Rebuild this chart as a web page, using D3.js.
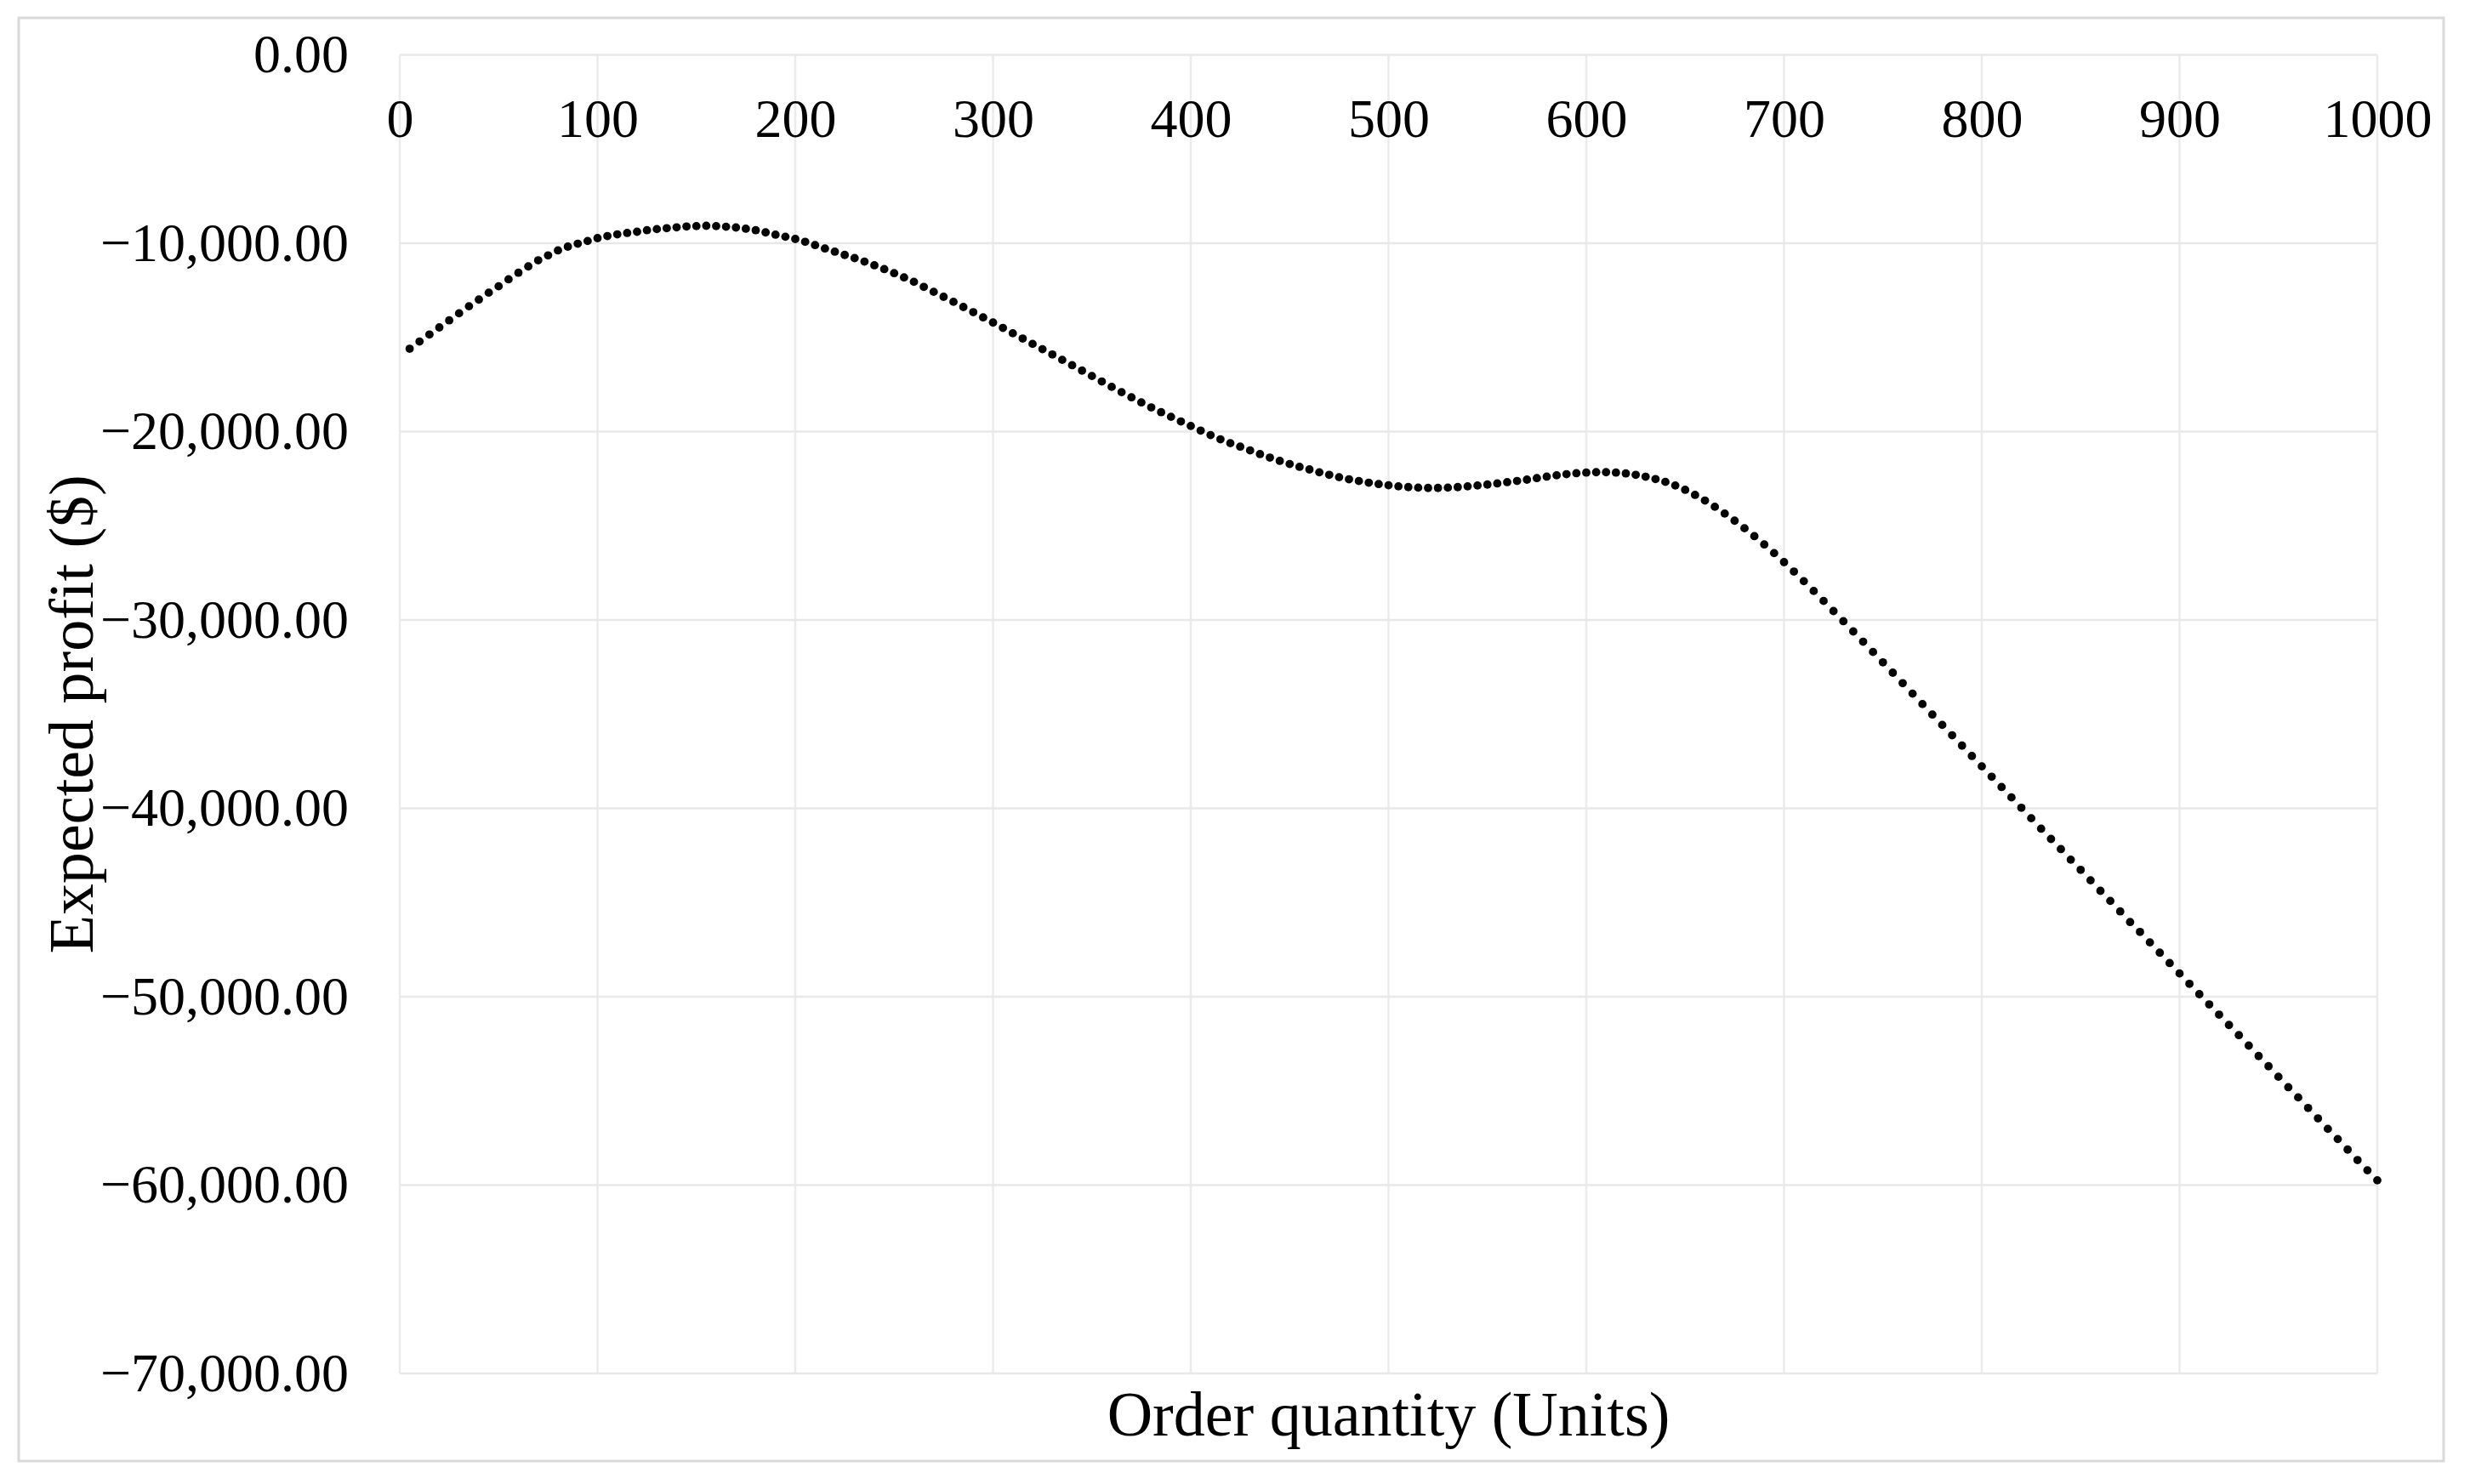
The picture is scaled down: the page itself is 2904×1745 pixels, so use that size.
<!DOCTYPE html>
<html>
<head>
<meta charset="utf-8">
<script src="https://cdn.jsdelivr.net/npm/d3@7"></script>
<style>
  body { margin: 0; background: #fff; }
  text { font-family: "Liberation Serif", "Times New Roman", serif; fill: #000; }
</style>
</head>
<body>
<svg id="chart" width="2904" height="1745"></svg>
<script>

// order quantity (units), one dot every 5 units
var quantity = [
    5, 10, 15, 20, 25, 30, 35, 40, 45, 50,
    55, 60, 65, 70, 75, 80, 85, 90, 95, 100,
    105, 110, 115, 120, 125, 130, 135, 140, 145, 150,
    155, 160, 165, 170, 175, 180, 185, 190, 195, 200,
    205, 210, 215, 220, 225, 230, 235, 240, 245, 250,
    255, 260, 265, 270, 275, 280, 285, 290, 295, 300,
    305, 310, 315, 320, 325, 330, 335, 340, 345, 350,
    355, 360, 365, 370, 375, 380, 385, 390, 395, 400,
    405, 410, 415, 420, 425, 430, 435, 440, 445, 450,
    455, 460, 465, 470, 475, 480, 485, 490, 495, 500,
    505, 510, 515, 520, 525, 530, 535, 540, 545, 550,
    555, 560, 565, 570, 575, 580, 585, 590, 595, 600,
    605, 610, 615, 620, 625, 630, 635, 640, 645, 650,
    655, 660, 665, 670, 675, 680, 685, 690, 695, 700,
    705, 710, 715, 720, 725, 730, 735, 740, 745, 750,
    755, 760, 765, 770, 775, 780, 785, 790, 795, 800,
    805, 810, 815, 820, 825, 830, 835, 840, 845, 850,
    855, 860, 865, 870, 875, 880, 885, 890, 895, 900,
    905, 910, 915, 920, 925, 930, 935, 940, 945, 950,
    955, 960, 965, 970, 975, 980, 985, 990, 995, 1000
];

// expected profit ($)
var profit = [
    -15600, -15220, -14845, -14470, -14095, -13720, -13345, -12990, -12625, -12285,
    -11915, -11565, -11230, -10905, -10645, -10380, -10180, -10025, -9880, -9730,
    -9620, -9530, -9455, -9390, -9310, -9250, -9200, -9155, -9110, -9090,
    -9075, -9090, -9125, -9165, -9230, -9310, -9425, -9545, -9655, -9775,
    -9925, -10100, -10280, -10450, -10620, -10790, -10975, -11170, -11375, -11590,
    -11815, -12050, -12315, -12580, -12845, -13110, -13385, -13660, -13935, -14210,
    -14495, -14780, -15060, -15345, -15625, -15905, -16190, -16475, -16760, -17050,
    -17340, -17625, -17905, -18180, -18450, -18715, -18970, -19215, -19460, -19700,
    -19945, -20185, -20410, -20615, -20800, -21000, -21195, -21380, -21555, -21720,
    -21870, -22010, -22160, -22295, -22420, -22530, -22625, -22710, -22785, -22850,
    -22905, -22945, -22975, -22990, -22990, -22975, -22945, -22905, -22860, -22810,
    -22750, -22685, -22620, -22550, -22470, -22390, -22320, -22260, -22210, -22175,
    -22155, -22155, -22175, -22220, -22295, -22395, -22520, -22670, -22860, -23090,
    -23360, -23660, -23990, -24350, -24730, -25130, -25550, -25990, -26450, -26930,
    -27430, -27940, -28460, -28990, -29525, -30065, -30610, -31155, -31700, -32250,
    -32800, -33355, -33910, -34465, -35020, -35570, -36120, -36670, -37220, -37770,
    -38320, -38870, -39420, -39970, -40525, -41080, -41625, -42165, -42725, -43265,
    -43820, -44380, -44915, -45470, -46035, -46560, -47115, -47660, -48215, -48765,
    -49315, -49865, -50410, -50950, -51500, -52040, -52595, -53150, -53690, -54250,
    -54805, -55345, -55905, -56460, -57015, -57555, -58115, -58670, -59215, -59745
];

var xTicks = [0, 100, 200, 300, 400, 500, 600, 700, 800, 900, 1000];
var yTicks = [0, -10000, -20000, -30000, -40000, -50000, -60000, -70000];

var xTitle = "Order quantity (Units)";
var yTitle = "Expected profit ($)";

var width = 2904,
    height = 1745,
    plot = {left: 470, right: 2795, top: 64.5, bottom: 1615};

var svg = d3.select("#chart");

svg.append("rect")
    .attr("x", 0).attr("y", 0)
    .attr("width", width).attr("height", height)
    .style("fill", "#fff");

// outer frame of the chart
svg.append("rect")
    .attr("x", 22).attr("y", 21)
    .attr("width", 2851).attr("height", 1697)
    .style("fill", "none")
    .style("stroke", "#d9d9d9")
    .style("stroke-width", 3);

var x = d3.scaleLinear().domain([0, 1000]).range([plot.left, plot.right]);
var y = d3.scaleLinear().domain([0, -70000]).range([plot.top, plot.bottom]);

// gridlines
svg.append("g").attr("class", "grid-x")
    .selectAll("line")
    .data(xTicks)
    .enter().append("line")
    .attr("x1", function(d) { return x(d); })
    .attr("x2", function(d) { return x(d); })
    .attr("y1", plot.top)
    .attr("y2", plot.bottom)
    .style("stroke", "#ebebeb")
    .style("stroke-width", 2.5);

svg.append("g").attr("class", "grid-y")
    .selectAll("line")
    .data(yTicks)
    .enter().append("line")
    .attr("x1", plot.left)
    .attr("x2", plot.right)
    .attr("y1", function(d) { return y(d); })
    .attr("y2", function(d) { return y(d); })
    .style("stroke", "#e8e8e8")
    .style("stroke-width", 2.5);

// y axis labels
var yAxis = svg.append("g")
    .attr("transform", "translate(" + plot.left + ",0)")
    .call(d3.axisLeft(y)
        .tickValues(yTicks)
        .tickFormat(d3.format(",.2f"))
        .tickSize(0)
        .tickPadding(60));

yAxis.select(".domain").remove();
yAxis.selectAll("text")
    .style("font-family", "'Liberation Serif', 'Times New Roman', serif")
    .style("font-size", "64px")
    .style("fill", "#000")
    .attr("dy", "0.32em");

// x axis labels sit just under the zero line
var xAxis = svg.append("g")
    .attr("transform", "translate(0," + y(0) + ")")
    .call(d3.axisBottom(x)
        .tickValues(xTicks)
        .tickFormat(d3.format("d"))
        .tickSize(0));

xAxis.select(".domain").remove();
xAxis.selectAll("text")
    .style("font-family", "'Liberation Serif', 'Times New Roman', serif")
    .style("font-size", "64px")
    .style("fill", "#000")
    .attr("dy", null)
    .attr("y", 161 - plot.top);

// the dots
svg.append("g").attr("class", "dots")
    .selectAll("circle")
    .data(quantity)
    .enter().append("circle")
    .attr("cx", function(d) { return x(d); })
    .attr("cy", function(d, i) { return y(profit[i]); })
    .attr("r", 4.9)
    .style("fill", "#050505");

// axis titles
svg.append("text")
    .attr("x", (plot.left + plot.right) / 2)
    .attr("y", 1688)
    .attr("text-anchor", "middle")
    .style("font-size", "74px")
    .text(xTitle);

svg.append("text")
    .attr("transform", "translate(109," + ((plot.top + plot.bottom) / 2) + ") rotate(-90)")
    .attr("text-anchor", "middle")
    .style("font-size", "74px")
    .text(yTitle);

</script>
</body>
</html>
